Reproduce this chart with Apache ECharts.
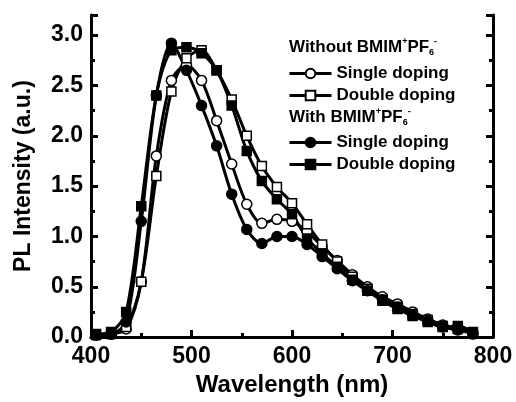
<!DOCTYPE html>
<html>
<head>
<meta charset="utf-8">
<script src="https://cdn.jsdelivr.net/npm/echarts@6/dist/echarts.min.js"></script>
<style>
  html, body { margin: 0; padding: 0; background: #fff; }
  #chart { width: 516px; height: 402px; }
</style>
</head>
<body>
<div id="chart"></div>
<script>
// wavelength (nm) of the sampled points
const wavelength = [405, 420, 435, 450, 465, 480, 495, 510, 525, 540, 555, 570, 585,
  600, 615, 630, 645, 660, 675, 690, 705, 720, 735, 750, 765, 780];

// Without BMIM+PF6-, single doping (open circles)
const withoutSingle = [0.02, 0.03, 0.08, 0.55, 1.8, 2.55, 2.7, 2.55, 2.15, 1.72, 1.32, 1.13, 1.17,
  1.15, 1.05, 0.9, 0.76, 0.62, 0.5, 0.4, 0.33, 0.25, 0.18, 0.12, 0.08, 0.03];
// Without BMIM+PF6-, double doping (open squares)
const withoutDouble = [0.02, 0.03, 0.1, 0.55, 1.6, 2.44, 2.77, 2.85, 2.65, 2.36, 2.0, 1.7, 1.49,
  1.33, 1.12, 0.92, 0.75, 0.6, 0.48, 0.37, 0.3, 0.23, 0.17, 0.11, 0.08, 0.04];
// With BMIM+PF6-, single doping (filled circles)
const withSingle = [0.02, 0.03, 0.15, 1.15, 2.4, 2.92, 2.65, 2.3, 1.9, 1.42, 1.07, 0.93, 1.0,
  1.0, 0.92, 0.8, 0.68, 0.56, 0.46, 0.37, 0.3, 0.22, 0.16, 0.1, 0.07, 0.04];
// With BMIM+PF6-, double doping (filled squares)
const withDouble = [0.03, 0.05, 0.25, 1.3, 2.4, 2.85, 2.88, 2.82, 2.65, 2.3, 1.85, 1.55, 1.37,
  1.22, 0.98, 0.83, 0.7, 0.57, 0.46, 0.36, 0.28, 0.21, 0.15, 0.1, 0.11, 0.05];

const itemLabels = ['Single doping', 'Double doping', 'Single doping', 'Double doping'];
const seriesKeys = ['w/o-single', 'w/o-double', 'w-single', 'w-double'];

const font = '"Liberation Sans", Arial, sans-serif';

function pairs(ys) {
  return wavelength.map((x, i) => [x, ys[i]]);
}

function makeSeries(key, ys, symbol, filled) {
  return {
    name: key,
    type: 'line',
    data: pairs(ys),
    smooth: 0.3,
    symbol: symbol,
    symbolSize: symbol === 'circle' ? 10 : 9,
    showAllSymbol: true,
    lineStyle: { color: '#000', width: 3 },
    itemStyle: {
      color: filled ? '#000' : '#fff',
      borderColor: '#000',
      borderWidth: 1.5
    },
    emphasis: { disabled: true }
  };
}

const chart = echarts.init(document.getElementById('chart'));

const legendCommon = {
  left: 288,
  orient: 'vertical',
  padding: 0,
  itemWidth: 42,
  itemHeight: 12,
  itemGap: 5,
  selectedMode: false,
  lineStyle: { width: 3, color: '#000' },
  textStyle: { fontFamily: font, fontWeight: 'bold', fontSize: 17, color: '#000' },
  formatter: name => itemLabels[seriesKeys.indexOf(name)]
};

const headRich = {
  a: { fontFamily: font, fontWeight: 'bold', fontSize: 17, color: '#000', lineHeight: 20 },
  sup: { fontFamily: font, fontWeight: 'bold', fontSize: 9, color: '#000', verticalAlign: 'top', lineHeight: 20 },
  sub: { fontFamily: font, fontWeight: 'bold', fontSize: 9, color: '#000', verticalAlign: 'bottom', lineHeight: 20 }
};

const option = {
  animation: false,
  grid: { left: 91, right: 23, top: 15, bottom: 63 },
  xAxis: [
    {
      type: 'value',
      min: 400,
      max: 800,
      interval: 100,
      name: 'Wavelength (nm)',
      nameLocation: 'middle',
      nameGap: 32,
      nameTextStyle: { fontFamily: font, fontWeight: 'bold', fontSize: 24, color: '#000' },
      axisLine: { lineStyle: { color: '#000', width: 3 } },
      axisTick: { inside: true, length: 7, lineStyle: { color: '#000', width: 3 } },
      minorTick: { show: true, splitNumber: 2, length: 4, lineStyle: { color: '#000', width: 3 } },
      axisLabel: { margin: 8, fontFamily: font, fontWeight: 'bold', fontSize: 23, color: '#000' },
      splitLine: { show: false }
    },
    {
      type: 'value',
      position: 'top',
      min: 400,
      max: 800,
      axisLine: { show: true, lineStyle: { color: '#000', width: 3 } },
      axisTick: { show: false },
      axisLabel: { show: false },
      splitLine: { show: false }
    }
  ],
  yAxis: [
    {
      type: 'value',
      min: 0,
      max: 3.2,
      interval: 0.5,
      name: 'PL Intensity (a.u.)',
      nameLocation: 'middle',
      nameGap: 56,
      nameTextStyle: { fontFamily: font, fontWeight: 'bold', fontSize: 23, color: '#000' },
      axisLine: { show: true, lineStyle: { color: '#000', width: 3 } },
      axisTick: { inside: true, length: 7, lineStyle: { color: '#000', width: 3 } },
      minorTick: { show: true, splitNumber: 2, length: 4, lineStyle: { color: '#000', width: 3 } },
      axisLabel: {
        margin: 8, fontFamily: font, fontWeight: 'bold', fontSize: 23, color: '#000',
        formatter: v => (v > 3.05 ? '' : v.toFixed(1))
      },
      splitLine: { show: false }
    },
    {
      type: 'value',
      position: 'right',
      min: 0,
      max: 3.2,
      interval: 0.5,
      axisLine: { show: true, lineStyle: { color: '#000', width: 3 } },
      axisTick: { inside: true, length: 7, lineStyle: { color: '#000', width: 3 } },
      minorTick: { show: true, splitNumber: 2, length: 4, lineStyle: { color: '#000', width: 3 } },
      axisLabel: { show: false },
      splitLine: { show: false }
    }
  ],
  legend: [
    Object.assign({ top: 65, data: seriesKeys.slice(0, 2) }, legendCommon),
    Object.assign({ top: 134, data: seriesKeys.slice(2, 4) }, legendCommon)
  ],
  graphic: [
    {
      type: 'text',
      left: 289,
      top: 37,
      style: { text: '{a|Without BMIM}{sup|+}{a|PF}{sub|6}{sup|-}', rich: headRich }
    },
    {
      type: 'text',
      left: 289,
      top: 107,
      style: { text: '{a|With BMIM}{sup|+}{a|PF}{sub|6}{sup|-}', rich: headRich }
    }
  ],
  series: [
    makeSeries(seriesKeys[0], withoutSingle, 'circle', false),
    makeSeries(seriesKeys[1], withoutDouble, 'rect', false),
    makeSeries(seriesKeys[2], withSingle, 'circle', true),
    makeSeries(seriesKeys[3], withDouble, 'rect', true)
  ]
};

chart.setOption(option);
</script>
</body>
</html>
